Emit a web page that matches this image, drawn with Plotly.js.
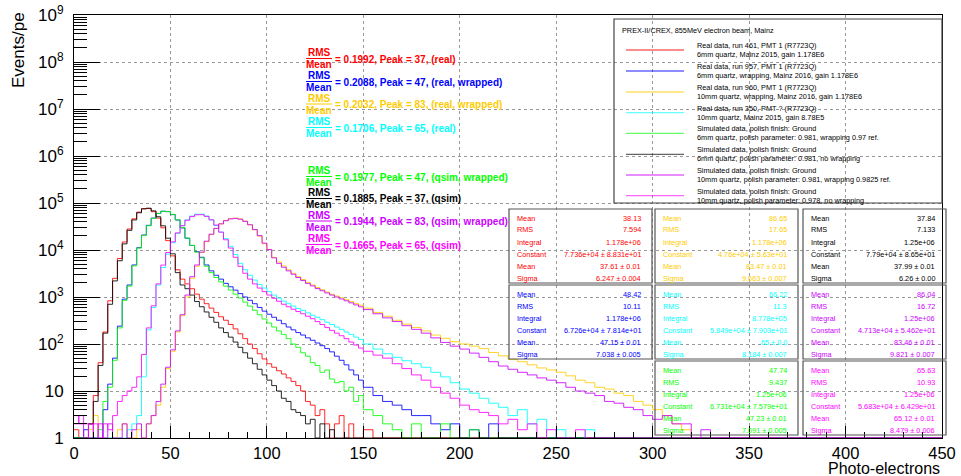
<!DOCTYPE html>
<html><head><meta charset="utf-8">
<script src="https://cdn.plot.ly/plotly-3.0.1.min.js"></script>
<style>html,body{margin:0;padding:0;background:#fff;}#chart{width:961px;height:476px;}</style>
</head><body><div id="chart"></div>
<script>
// ---- data: histogram contents (events per photo-electron) ----
// bins: 2.5 pe wide from 0 to 150, then 5 pe wide from 150 to 450
const fineLow = 0, fineWidth = 2.5, fineHigh = 150, coarseWidth = 5, histHigh = 450;

const run461 = [1.5,1,1,2,8,40,180,830,2500,6600,
 14800,28000,46000,64000,75700,76200,65300,47700,29700,15800,
 7500,3800,2400,1900,1500,1150,900,720,580,470,
 380,320,260,210,165,130,100,80,62,48,
 38,32,27,23,19,16,13,10,6,5,
 3,4,2,1,2,3,1,2,1,1,
 1.5,1,1,1,1,1,1,1,1,1, 1,1,1,1,1,1,1,1,1,1, 1,1,1,1,1,1,1,1,1,1,
 1,1,1,1,1,1,1,1,1,1, 1,1,1,1,1,1,1,1,1,1, 1,1,1,1,1,1,1,1,1,1];
const run957 = [1,1,1.5,1,1,1,4,14,50,240,
 900,1800,4800,11200,20800,33500,47800,60000,66800,65500,
 56500,43500,29500,17800,12500,9200,7000,4800,3600,2900,
 2400,1950,1650,1400,1180,1000,850,720,600,500,
 430,370,320,270,230,200,175,155,135,120,
 105,92,80,68,55,45,36,28,22,17,
 12,8,6,5,4,3,3,2,1.5,2, 1,1.5,1,2,1,1,1,1,1,1, 1,1,1,1,1,1,1,1,1,1,
 1,1,1,1,1,1,1,1,1,1, 1,1,1,1,1,1,1,1,1,1, 1,1,1,1,1,1,1,1,1,1];
const run960 = [1,1,1,1.5,3,1,1,1,1,1.5,
 2,1,1,1.5,1,2,3,5,12,30,
 70,180,400,1000,2500,4500,8800,15000,21400,28700,
 36000,42300,46400,47600,45700,41000,34500,27000,19900,13600,
 10300,7000,5600,4600,3800,3200,2700,2350,2050,1800,
 1600,1430,1280,1150,1050,960,880,800,730,670,
 580,470,390,320,265,225,190,155,132,112,
 100,90,80,66,56,47,42,36,31,28,
 25,21,17,15,12,11,9,8,6,5,
 4,3,2,1.5,1,1,1,1,1,1, 1,1,1,1,1,1,1,1,1,1, 1,1,1,1,1,1,1,1,1,1];
const run350 = [1,1,1,1,1,1,1,1,1,1,
 1,1.5,2,3,20,200,600,1800,4240,8150,
 14300,22700,33000,43800,52700,57800,57800,52700,43800,33000,
 24000,17500,12000,8000,5200,3800,2900,2300,1850,1550,
 1300,1100,950,820,720,640,570,520,460,410,
 370,330,290,260,230,205,180,160,140,125,
 100,78,62,52,44,38,32,25,20,15,
 11,9,7,5.5,4.5,3,4,2,2.5,1,
 1.5,1,1,1.5,1,1,1,1,1,1, 1,1,1,1,1,1,1,1,1,1, 1,1,1,1,1,1,1,1,1,1, 1,1,1,1,1,1,1,1,1,1];
const qsimWrap6 = [1,1,1,1,1,1.5,6,12,45,220,
 850,1700,4600,11000,20300,32900,47100,59700,66700,65800,
 57300,44000,30000,18000,12500,9000,6800,4500,3300,2600,
 2100,1700,1400,1150,950,780,640,520,420,340,
 280,230,190,160,130,100,85,65,55,40,
 35,25,28,18,15,16,10,12,6,8,
 4,3,2,1.5,1,2,1,1,2,1, 1,1.5,1,1,1,1,1,1,1,1, 1,1,1,1,1,1,1,1,1,1,
 1,1,1,1,1,1,1,1,1,1, 1,1,1,1,1,1,1,1,1,1, 1,1,1,1,1,1,1,1,1,1];
const qsim6 = [1,1,1,2,6,35,170,700,2200,5900,
 13500,26200,43600,62000,75000,77500,68000,51000,32700,17800,
 8300,3300,1800,1500,1100,800,620,480,370,290,
 220,175,140,110,85,65,50,38,29,22,
 17,13,10,7,6,4,3.5,3,2,2.5,
 1,2,1,1.5,1,1,1,1,1,1,
 1,1,1,1,1,1,1,1,1,1, 1,1,1,1,1,1,1,1,1,1, 1,1,1,1,1,1,1,1,1,1,
 1,1,1,1,1,1,1,1,1,1, 1,1,1,1,1,1,1,1,1,1, 1,1,1,1,1,1,1,1,1,1];
const qsimWrap10 = [3,2,1,2,1,2,1,2,1,1,
 2,1,1.5,2,1,2,3,6,14,32,
 75,190,420,1100,2700,4800,9000,15400,21700,28900,
 36000,42000,45900,47100,45200,40700,34400,27200,20200,14000,
 10200,6800,5200,4300,3600,3050,2600,2250,1950,1720,
 1520,1360,1220,1100,1000,910,830,750,680,620,
 540,440,360,300,245,205,170,135,108,90,
 78,64,52,42,34,29,25,22,19,17,
 15,12,10,9,8,6,5.5,4.5,4,3,
 2.5,3,2,2,1,1.5,1,1,1,1, 1,1,1,1,1,1,1,1,1,1, 1,1,1,1,1,1,1,1,1,1];
const qsim10 = [2,3,2,1,2,1,2,1.5,3,6,
 8,10,12,20,60,220,650,1900,4780,8830,
 14900,23100,32900,42900,51300,56100,56400,51900,43800,33900,
 24000,16500,11000,7000,4500,3200,2400,1900,1550,1300,
 1100,940,810,700,620,550,490,440,390,345,
 300,260,225,195,170,150,130,110,95,82,
 70,58,50,38,30,22,17,12,9,7,
 5,4,3.5,3,2,2.5,1.5,2,1,1.5,
 1,1,1.5,1,1,1,1,1,1,1, 1,1,1,1,1,1,1,1,1,1, 1,1,1,1,1,1,1,1,1,1, 1,1,1,1,1,1,1,1,1,1];

const seriesData = [run461, run957, run960, run350, qsimWrap6, qsim6, qsimWrap10, qsim10];
const seriesColors = ['#ff0000','#0000ff','#ffcc00','#00ffff','#00ff00','#000000','#cc00ff','#ff00ff'];

const ratioTexts = [
 '= 0.1992, Peak = 37, (real)',
 '= 0.2088, Peak = 47, (real, wrapped)',
 '= 0.2032, Peak = 83, (real, wrapped)',
 '= 0.1706, Peak = 65, (real)',
 '= 0.1977, Peak = 47, (qsim, wrapped)',
 '= 0.1885, Peak = 37, (qsim)',
 '= 0.1944, Peak = 83, (qsim, wrapped)',
 '= 0.1665, Peak = 65, (qsim)'];

const statLabels = ['Mean','RMS','Integral','Constant','Mean','Sigma'];
const stats461 = ['38.13','7.594','1.178e+06','7.736e+04 \u00b1 8.831e+01','37.61 \u00b1 0.01','6.247 \u00b1 0.004'];
const stats957 = ['48.42','10.11','1.178e+06','6.726e+04 \u00b1 7.814e+01','47.15 \u00b1 0.01','7.038 \u00b1 0.005'];
const stats960 = ['86.65','17.65','1.178e+06','4.76e+04 \u00b1 5.63e+01','83.47 \u00b1 0.01','9.663 \u00b1 0.007'];
const stats350 = ['66.22','11.3','8.778e+05','5.849e+04 \u00b1 7.903e+01','65 \u00b1 0.0','8.184 \u00b1 0.007'];
const statsQW6 = ['47.74','9.437','1.25e+06','6.731e+04 \u00b1 7.579e+01','47.23 \u00b1 0.01','7.091 \u00b1 0.005'];
const statsQ6  = ['37.84','7.133','1.25e+06','7.79e+04 \u00b1 8.65e+01','37.99 \u00b1 0.01','6.26 \u00b1 0.00'];
const statsQW10= ['86.04','16.72','1.25e+06','4.713e+04 \u00b1 5.462e+01','83.46 \u00b1 0.01','9.821 \u00b1 0.007'];
const statsQ10 = ['65.63','10.93','1.25e+06','5.683e+04 \u00b1 6.429e+01','65.12 \u00b1 0.01','8.479 \u00b1 0.006'];
const allStats = [stats461, stats957, stats960, stats350, statsQW6, statsQ6, statsQW10, statsQ10];

const legendHeader = 'PREX-II/CREX, 855MeV electron beam, Mainz';
const legendLines = [
 ['Real data, run 461, PMT 1 (R7723Q)','6mm quartz, Mainz 2015, gain 1.178E6'],
 ['Real data, run 957, PMT 1 (R7723Q)','6mm quartz, wrapping, Mainz 2016, gain 1.178E6'],
 ['Real data, run 960, PMT 1 (R7723Q)','10mm quartz, wrapping, Mainz 2016, gain 1.178E6'],
 ['Real data, run 350, PMT ? (R7723Q)','10mm quartz, Mainz 2015, gain 8.78E5'],
 ['Simulated data, polish finish: Ground','6mm quartz, polish parameter: 0.981, wrapping 0.97 ref.'],
 ['Simulated data, polish finish: Ground','6mm quartz, polish parameter: 0.981, no wrapping'],
 ['Simulated data, polish finish: Ground','10mm quartz, polish parameter: 0.981, wrapping 0.9825 ref.'],
 ['Simulated data, polish finish: Ground','10mm quartz, polish parameter: 0.978, no wrapping']];

const yTickVals = [1,10,100,1e3,1e4,1e5,1e6,1e7,1e8,1e9];
const yTickText = ['1','10','10<sup>2</sup>','10<sup>3</sup>','10<sup>4</sup>','10<sup>5</sup>','10<sup>6</sup>','10<sup>7</sup>','10<sup>8</sup>','10<sup>9</sup>'];

// ---- drawing ----
const FONT = 'Liberation Sans, Arial, Helvetica, sans-serif';
const PL=74, PR=942, PT=15, PB=438;
const fx = x => (x-PL)/(PR-PL);
const fy = y => (PB-y)/(PB-PT);

const edges = [];
for (let e=fineLow; e<fineHigh-1e-9; e+=fineWidth) edges.push(e);
for (let e=fineHigh; e<=histHigh+1e-9; e+=coarseWidth) edges.push(e);

const traces = seriesData.map((vals,k) => ({
  type:'scatter', mode:'lines', x: edges, y: vals.concat([vals[vals.length-1]]),
  line:{shape:'hv', color: seriesColors[k], width:1}, opacity:0.85,
  hoverinfo:'skip', showlegend:false
}));

const shapes = [];
const annotations = [];

// RMS/Mean annotations
const ratioY = [58.5, 81.5, 104, 127.5, 176.5, 198.5, 221, 244.5];
ratioY.forEach((y,k) => {
  const c = seriesColors[k];
  annotations.push({xref:'paper',yref:'paper',x:fx(319),y:fy(y-5.8),text:'<b>RMS</b>',showarrow:false,xanchor:'center',yanchor:'middle',font:{family:FONT,size:10,color:c}});
  annotations.push({xref:'paper',yref:'paper',x:fx(319),y:fy(y+6),text:'<b>Mean</b>',showarrow:false,xanchor:'center',yanchor:'middle',font:{family:FONT,size:10,color:c}});
  shapes.push({type:'line',xref:'paper',yref:'paper',x0:fx(306),x1:fx(332),y0:fy(y),y1:fy(y),line:{color:c,width:1}});
  annotations.push({xref:'paper',yref:'paper',x:fx(333),y:fy(y+0.5),text:'<b>'+ratioTexts[k]+'</b>',showarrow:false,xanchor:'left',yanchor:'middle',font:{family:FONT,size:10,color:c}});
});

// stats boxes
const colLeft = [509, 655, 803], rowTop = [209, 285, 361];
const boxPos = [[0,0],[0,1],[1,0],[1,1],[1,2],[2,0],[2,1],[2,2]];
boxPos.forEach((p,k) => {
  const L = colLeft[p[0]], T = rowTop[p[1]], W = 143, H = 74;
  const c = seriesColors[k];
  shapes.push({type:'rect',xref:'paper',yref:'paper',x0:fx(L),x1:fx(L+W),y0:fy(T),y1:fy(T+H),line:{color:'#555',width:1.2},fillcolor:'rgba(0,0,0,0)',layer:'above'});
  allStats[k].forEach((v,r) => {
    const yy = T + 9 + 12*r;
    annotations.push({xref:'paper',yref:'paper',x:fx(L+6),y:fy(yy),text:statLabels[r],showarrow:false,xanchor:'left',yanchor:'middle',font:{family:FONT,size:7.3,color:c}});
    annotations.push({xref:'paper',yref:'paper',x:fx(L+W-9),y:fy(yy),text:v,showarrow:false,xanchor:'right',yanchor:'middle',font:{family:FONT,size:7.3,color:c}});
  });
});

// legend (transparent box)
shapes.push({type:'rect',xref:'paper',yref:'paper',x0:fx(614),x1:fx(942),y0:fy(19),y1:fy(203),line:{color:'#444',width:1.2},fillcolor:'rgba(0,0,0,0)',layer:'above'});
annotations.push({xref:'paper',yref:'paper',x:fx(620),y:fy(30),text:legendHeader,showarrow:false,xanchor:'left',yanchor:'middle',font:{family:FONT,size:7.3,color:'#000'}});
const legY = [50, 71, 92, 112.7, 133.3, 154.3, 175, 195.7];
legY.forEach((y,k) => {
  shapes.push({type:'line',xref:'paper',yref:'paper',x0:fx(626),x1:fx(684),y0:fy(y),y1:fy(y),line:{color:seriesColors[k],width:1.3},opacity:0.6,layer:'above'});
  annotations.push({xref:'paper',yref:'paper',x:fx(695),y:fy(y),text:legendLines[k][0]+'<br>'+legendLines[k][1],showarrow:false,xanchor:'left',yanchor:'middle',align:'left',font:{family:FONT,size:7.3,color:'#000'}});
});

// axis titles (ROOT style: at the end of the axes)
annotations.push({xref:'paper',yref:'paper',x:1,y:fy(468.5),text:'Photo-electrons',showarrow:false,xanchor:'right',yanchor:'middle',font:{family:FONT,size:16,color:'#000'}});
annotations.push({xref:'paper',yref:'paper',x:fx(18),y:fy(10),text:'Events/pe',textangle:-90,showarrow:false,xanchor:'center',yanchor:'top',font:{family:FONT,size:17,color:'#000'}});

const layout = {
  width:961, height:476,
  margin:{l:PL, r:961-PR, t:PT, b:476-PB, pad:0},
  paper_bgcolor:'#ffffff', plot_bgcolor:'#ffffff',
  showlegend:false,
  font:{family:FONT, color:'#000'},
  xaxis:{range:[0,450], tickmode:'linear', tick0:0, dtick:50, ticks:'inside', ticklen:12, tickcolor:'#000', tickwidth:1,
    showline:true, linecolor:'#000', linewidth:1, mirror:true, zeroline:false,
    showgrid:true, gridcolor:'#999', griddash:'dot', gridwidth:1,
    minor:{ticks:'inside', ticklen:6, dtick:10, tickcolor:'#000', showgrid:false},
    tickfont:{family:FONT,size:16.5,color:'#000'}},
  yaxis:{type:'log', range:[0,9], tickmode:'array', tickvals:yTickVals, ticktext:yTickText,
    ticks:'inside', ticklen:26, tickcolor:'#000', tickwidth:1, ticklabelstandoff:6,
    showline:true, linecolor:'#000', linewidth:1, mirror:true, zeroline:false,
    showgrid:true, gridcolor:'#999', griddash:'dot', gridwidth:1,
    minor:{ticks:'inside', ticklen:13, dtick:'D1', tickcolor:'#000', showgrid:false},
    tickfont:{family:FONT,size:17,color:'#000'}},
  shapes: shapes,
  annotations: annotations
};

Plotly.newPlot('chart', traces, layout, {displayModeBar:false, staticPlot:true});
</script>
</body></html>
